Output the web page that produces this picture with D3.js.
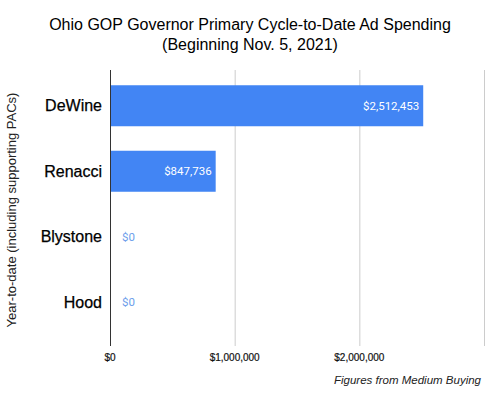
<!DOCTYPE html>
<html>
<head>
<meta charset="utf-8">
<script src="https://cdn.jsdelivr.net/npm/d3@7"></script>
<style>
  body { margin: 0; background: #fff; }
  text { font-family: "Liberation Sans", Arial, sans-serif; }
</style>
</head>
<body>
<div id="chart"></div>
<script>
const candidates = ["DeWine", "Renacci", "Blystone", "Hood"];
const spending = [2512453, 847736, 0, 0];
const tickValues = [0, 1000000, 2000000, 3000000];
const tickLabels = ["$0", "$1,000,000", "$2,000,000", ""];

const width = 500;
const height = 399;
const plot = {left: 110, right: 484, top: 70, bottom: 346};

const x = d3.scaleLinear()
    .domain([0, 3000000])
    .range([plot.left, plot.right]);
const y = d3.scaleBand()
    .domain(candidates)
    .range([73, 335])
    .paddingInner(0.374)
    .paddingOuter(0.187);

const money = d3.format("$,");

const svg = d3.select("#chart")
    .append("svg")
    .attr("width", width)
    .attr("height", height);

// title
const title = svg.append("text")
    .attr("x", 250)
    .attr("text-anchor", "middle")
    .attr("font-size", 16)
    .attr("fill", "#000");
title.append("tspan").attr("x", 250).attr("y", 30)
    .text("Ohio GOP Governor Primary Cycle-to-Date Ad Spending");
title.append("tspan").attr("x", 250).attr("y", 50)
    .text("(Beginning Nov. 5, 2021)");

// gridlines
svg.append("g")
    .selectAll("line")
    .data(tickValues.slice(1))
    .join("line")
    .attr("x1", d => x(d) + 0.5)
    .attr("x2", d => x(d) + 0.5)
    .attr("y1", plot.top)
    .attr("y2", plot.bottom)
    .attr("stroke", "#cccccc")
    .attr("stroke-width", 1);

// bars
svg.append("g")
    .selectAll("rect")
    .data(spending)
    .join("rect")
    .attr("x", x(0))
    .attr("y", (d, i) => y(candidates[i]))
    .attr("width", d => x(d) - x(0))
    .attr("height", y.bandwidth())
    .attr("fill", "#4285f4");

// zero axis line
svg.append("line")
    .attr("x1", x(0) + 0.5)
    .attr("x2", x(0) + 0.5)
    .attr("y1", plot.top)
    .attr("y2", plot.bottom)
    .attr("stroke", "#333333")
    .attr("stroke-width", 1);

// value labels
svg.append("g")
    .selectAll("text")
    .data(spending)
    .join("text")
    .attr("x", d => d > 0 ? x(d) - 4 : x(0) + 12)
    .attr("y", (d, i) => y(candidates[i]) + y.bandwidth() / 2)
    .attr("dy", "0.35em")
    .attr("text-anchor", d => d > 0 ? "end" : "start")
    .attr("font-size", 11.5)
    .style("font-family", "Roboto, sans-serif")
    .attr("fill", d => d > 0 ? "#ffffff" : "#6d9eeb")
    .text(d => money(d));

// category labels
svg.append("g")
    .selectAll("text")
    .data(candidates)
    .join("text")
    .attr("x", 102)
    .attr("y", d => y(d) + y.bandwidth() / 2)
    .attr("dy", "0.35em")
    .attr("text-anchor", "end")
    .attr("font-size", 16)
    .attr("fill", "#000")
    .attr("stroke", "#000")
    .attr("stroke-width", 0.25)
    .text(d => d);

// x tick labels
svg.append("g")
    .selectAll("text")
    .data(tickValues)
    .join("text")
    .attr("x", d => x(d))
    .attr("y", 361)
    .attr("text-anchor", "middle")
    .attr("font-size", 10)
    .attr("fill", "#111")
    .attr("stroke", "#111")
    .attr("stroke-width", 0.2)
    .text((d, i) => tickLabels[i]);

// y axis title
svg.append("text")
    .attr("transform", "translate(16,210) rotate(-90)")
    .attr("text-anchor", "middle")
    .attr("font-size", 13)
    .attr("fill", "#222")
    .text("Year-to-date (including supporting PACs)");

// note
svg.append("text")
    .attr("x", 481)
    .attr("y", 384)
    .attr("text-anchor", "end")
    .attr("font-size", 11.5)
    .attr("font-style", "italic")
    .attr("fill", "#222")
    .text("Figures from Medium Buying");
</script>
</body>
</html>
